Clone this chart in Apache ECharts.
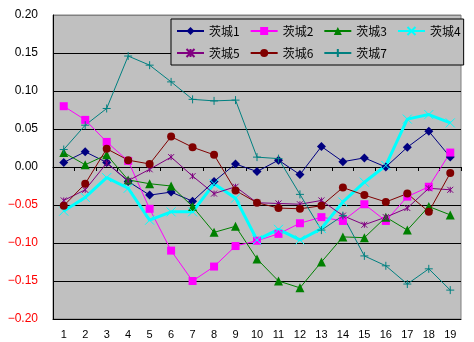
<!DOCTYPE html>
<html>
<head>
<meta charset="utf-8">
<script src="https://cdn.jsdelivr.net/npm/echarts@6/dist/echarts.min.js"></script>
<style>
  html, body { margin: 0; padding: 0; background: #fff; }
  #chart { width: 474px; height: 342px; }
</style>
</head>
<body>
<div id="chart"></div>
<script>
// Categories along the x axis
const categories = ['1','2','3','4','5','6','7','8','9','10','11','12','13','14','15','16','17','18','19'];

// Series names
const seriesNames = ['茨城1','茨城2','茨城3','茨城4','茨城5','茨城6','茨城7'];

// Values per series
const ibaraki1 = [0.006, 0.020, 0.006, -0.019, -0.037, -0.033, -0.045, -0.019, 0.004, -0.006, 0.009, -0.010, 0.027, 0.007, 0.012, 0.000, 0.026, 0.047, 0.013];
const ibaraki2 = [0.080, 0.062, 0.033, 0.008, -0.055, -0.110, -0.150, -0.131, -0.104, -0.097, -0.088, -0.074, -0.066, -0.071, -0.049, -0.071, -0.039, -0.026, 0.019];
const ibaraki3 = [0.019, 0.003, 0.016, -0.017, -0.022, -0.025, -0.052, -0.086, -0.078, -0.121, -0.150, -0.159, -0.125, -0.092, -0.093, -0.066, -0.083, -0.052, -0.063];
const ibaraki4 = [-0.058, -0.040, -0.014, -0.028, -0.070, -0.059, -0.059, -0.022, -0.041, -0.096, -0.082, -0.096, -0.081, -0.046, -0.020, 0.002, 0.063, 0.069, 0.058];
const ibaraki5 = [-0.044, -0.030, 0.005, -0.018, -0.003, 0.013, -0.012, -0.035, -0.026, -0.047, -0.048, -0.049, -0.044, -0.064, -0.076, -0.066, -0.054, -0.028, -0.030];
const ibaraki6 = [-0.051, -0.022, 0.024, 0.009, 0.004, 0.040, 0.026, 0.016, -0.031, -0.047, -0.054, -0.055, -0.051, -0.027, -0.037, -0.046, -0.035, -0.059, -0.008];
const ibaraki7 = [0.023, 0.055, 0.077, 0.146, 0.134, 0.112, 0.089, 0.087, 0.088, 0.013, 0.011, -0.036, -0.083, -0.064, -0.117, -0.130, -0.154, -0.134, -0.162];

// Y axis range
const yMin = -0.20;
const yMax = 0.20;
const yStep = 0.05;

const X_MARK = 'path://M0,0L10,10M10,0L0,10';
const STAR_MARK = 'path://M0,0L10,10M10,0L0,10M5,0L5,10';
const PLUS_MARK = 'path://M5,0L5,10M0,5L10,5';

function lineSeries(name, data, color, symbol, size, width, stroked) {
  return {
    name: name,
    type: 'line',
    data: data,
    symbol: symbol,
    symbolSize: size,
    showSymbol: true,
    lineStyle: { color: color, width: width },
    itemStyle: stroked
      ? { color: color, borderColor: color, borderWidth: 1 }
      : { color: color, borderWidth: 0 },
    emphasis: { disabled: true },
    animation: false
  };
}

const chart = echarts.init(document.getElementById('chart'), null, { renderer: 'canvas' });

chart.setOption({
  backgroundColor: '#ffffff',
  animation: false,
  textStyle: { fontFamily: 'Liberation Sans, Arial, sans-serif' },
  grid: {
    left: 53, right: 13, top: 15, bottom: 23,
    show: true,
    backgroundColor: '#c0c0c0',
    borderColor: '#808080',
    borderWidth: 1
  },
  legend: {
    left: 171, top: 19,
    width: 285,
    padding: [6, 3, 6, 5],
    itemWidth: 27,
    itemHeight: 10,
    itemGap: 10,
    backgroundColor: '#c0c0c0',
    borderColor: '#000000',
    borderWidth: 1,
    data: seriesNames,
    textStyle: { fontFamily: 'Noto Sans CJK JP', fontSize: 12, color: '#000' }
  },
  xAxis: [
    {
      type: 'category',
      data: categories,
      position: 'bottom',
      axisLine: { onZero: false, lineStyle: { color: '#000', width: 1 } },
      axisTick: { show: false },
      axisLabel: { fontSize: 11, color: '#000', margin: 10 },
      splitLine: { show: false }
    },
    {
      type: 'category',
      data: categories,
      position: 'bottom',
      axisLine: { onZero: true, lineStyle: { color: '#000', width: 1 } },
      axisTick: { show: true, length: 4, lineStyle: { color: '#000' } },
      axisLabel: { show: false },
      splitLine: { show: false }
    }
  ],
  yAxis: {
    type: 'value',
    min: yMin,
    max: yMax,
    interval: yStep,
    axisLine: { show: true, lineStyle: { color: '#000', width: 1 } },
    axisTick: { show: false },
    axisLabel: {
      fontSize: 12,
      margin: 15,
      formatter: function (v) {
        const s = Math.abs(v).toFixed(2);
        return v < -1e-9 ? '\u2212' + s : s;
      },
      color: function (v) {
        return Number(v) < -1e-9 ? '#ff0000' : '#000000';
      }
    },
    splitLine: {
      show: true,
      lineStyle: {
        color: ['#000', '#000', '#000', '#000', '#000', '#000', '#000', '#000', '#808080'],
        width: 1
      }
    }
  },
  series: [
    lineSeries(seriesNames[0], ibaraki1, '#000080', 'diamond', 9, 1, false),
    lineSeries(seriesNames[1], ibaraki2, '#ff00ff', 'rect', 8, 1, false),
    lineSeries(seriesNames[2], ibaraki3, '#008000', 'triangle', 9, 1, false),
    lineSeries(seriesNames[3], ibaraki4, '#00ffff', X_MARK, 9, 3, true),
    lineSeries(seriesNames[4], ibaraki5, '#800080', STAR_MARK, 6, 1, true),
    lineSeries(seriesNames[5], ibaraki6, '#800000', 'circle', 8, 1, false),
    lineSeries(seriesNames[6], ibaraki7, '#008080', PLUS_MARK, 8, 1, true)
  ]
});
</script>
</body>
</html>
